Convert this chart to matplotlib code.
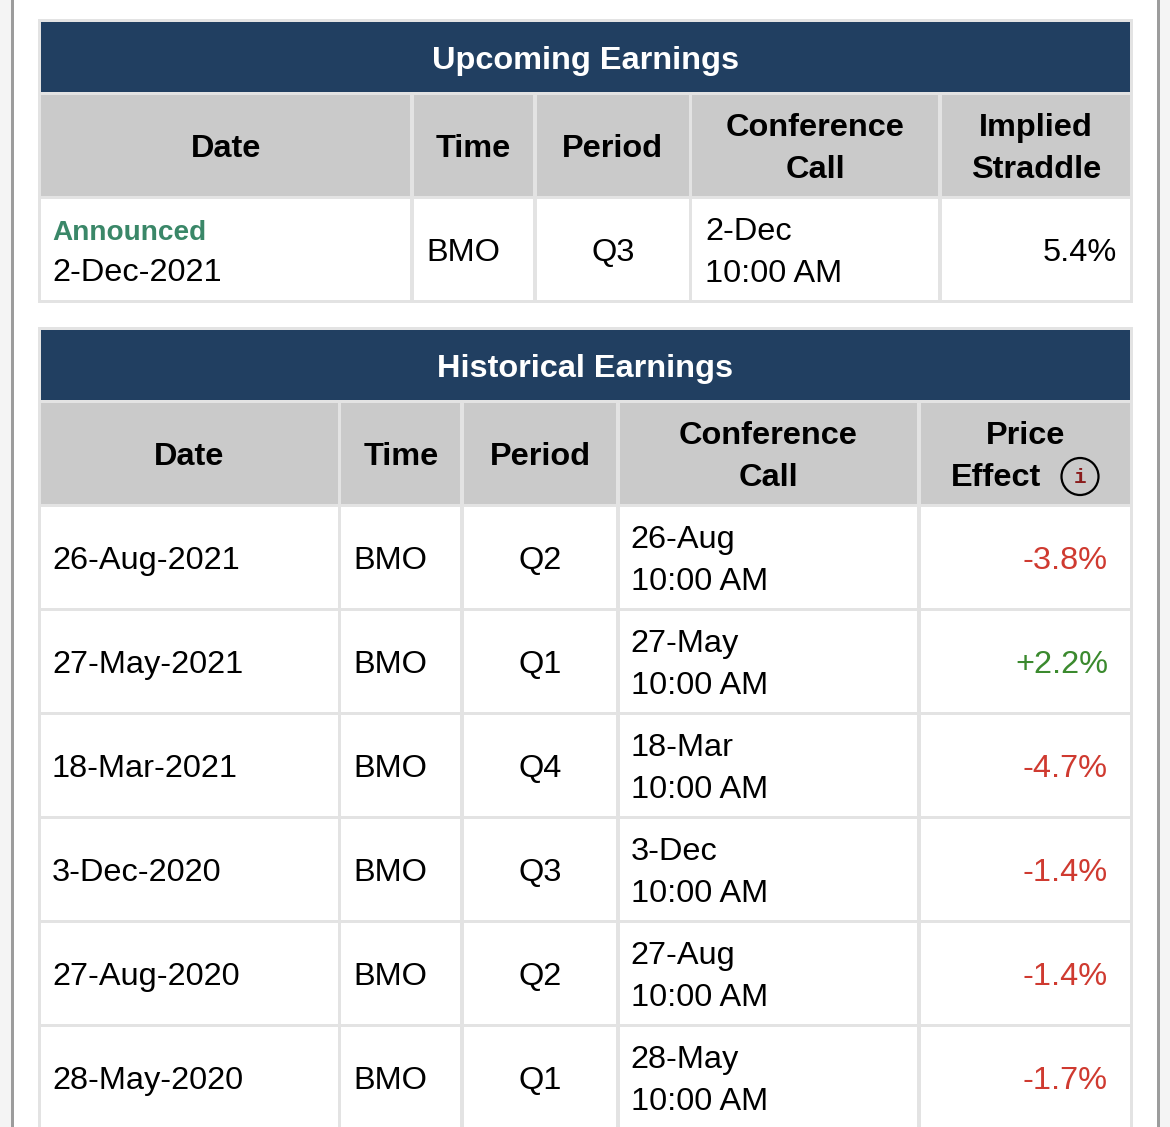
import matplotlib.pyplot as plt
from matplotlib.patches import Circle, Rectangle

plt.rcParams["font.family"] = ["Liberation Sans", "DejaVu Sans"]

# ---- data -------------------------------------------------------------
upcoming_title = "Upcoming Earnings"
upcoming_headers = ["Date", "Time", "Period", "Conference\nCall", "Implied\nStraddle"]
upcoming_status = "Announced"
upcoming_date = "2-Dec-2021"
upcoming_time = "BMO"
upcoming_period = "Q3"
upcoming_call = ["2-Dec", "10:00 AM"]
upcoming_straddle = 5.4

hist_title = "Historical Earnings"
hist_headers = ["Date", "Time", "Period", "Conference\nCall", "Price\nEffect"]
hist_dates = ["26-Aug-2021", "27-May-2021", "18-Mar-2021",
              "3-Dec-2020", "27-Aug-2020", "28-May-2020"]
hist_times = ["BMO", "BMO", "BMO", "BMO", "BMO", "BMO"]
hist_periods = ["Q2", "Q1", "Q4", "Q3", "Q2", "Q1"]
hist_call_days = ["26-Aug", "27-May", "18-Mar", "3-Dec", "27-Aug", "28-May"]
hist_call_times = ["10:00 AM"] * 6
price_effect = [-3.8, 2.2, -4.7, -1.4, -1.4, -1.7]

# ---- style ------------------------------------------------------------
W, H = 1170, 1127
BLUE = "#213f61"
HEAD_GRAY = "#cacaca"
BORDER = "#e3e3e3"
RED = "#cf3a30"
GREEN = "#3b8a2e"
ANN_GREEN = "#3a8768"
FPX = 32.5               # font size in pixels
FS = FPX * 0.72          # in points at dpi 100
LINE = 42                # line spacing in px
GAP = 3.5                # border width between cells

fig = plt.figure(figsize=(W / 100, H / 100), dpi=100)
ax = fig.add_axes([0, 0, 1, 1])
ax.set_xlim(0, W)
ax.set_ylim(H, 0)
ax.axis("off")

# page frame
ax.add_patch(Rectangle((0, 0), 11, H, color="#f4f4f4", lw=0))
ax.add_patch(Rectangle((11, 0), 2.5, H, color="#9c9c9c", lw=0))
ax.add_patch(Rectangle((1157, 0), 2.5, H, color="#9c9c9c", lw=0))
ax.add_patch(Rectangle((1159.5, 0), W - 1159.5, H, color="#f4f4f4", lw=0))


def cell(x0, x1, y0, y1, color):
    ax.add_patch(Rectangle((x0, y0), x1 - x0, y1 - y0, color=color, lw=0))


def put(x, yc, lines, ha="left", color="black", weight="normal", fpx=FPX):
    n = len(lines)
    for i, s in enumerate(lines):
        y = yc + (i - (n - 1) / 2) * LINE + 0.358 * fpx
        ax.text(x, y, s, ha=ha, va="baseline", fontsize=fpx * 0.72,
                color=color, fontweight=weight)


def draw_table(top, bottom, bounds, title, headers):
    left, right = 41, 1130
    ax.add_patch(Rectangle((left - 3, top - 3), right - left + 6,
                           bottom - top + 6, color=BORDER, lw=0))
    edges = [left] + bounds + [right]
    cols = [(edges[i] + (GAP / 2 if i else 0),
             edges[i + 1] - (GAP / 2 if i + 1 < len(edges) - 1 else 0))
            for i in range(len(edges) - 1)]
    # title bar
    cell(left, right, top, top + 70, BLUE)
    put((left + right) / 2, top + 35, [title], ha="center", color="white",
        weight="bold")
    # header row
    hy0, hy1 = top + 73, top + 174
    for c0, c1 in cols:
        cell(c0, c1, hy0, hy1, HEAD_GRAY)
    return cols, hy0, hy1


# ---- upcoming earnings -------------------------------------------------
cols1, hy0, hy1 = draw_table(22, 300, [412, 535, 690.5, 940],
                             upcoming_title, upcoming_headers)
for (c0, c1), h in zip(cols1, upcoming_headers):
    put((c0 + c1) / 2, (hy0 + hy1) / 2, h.split("\n"), ha="center",
        weight="bold")
by0, by1 = hy1 + 3, 300
for c0, c1 in cols1:
    cell(c0, c1, by0, by1, "white")
yc = (by0 + by1) / 2
put(cols1[0][0] + 11, yc - 20, [upcoming_status], color=ANN_GREEN,
    weight="bold", fpx=28)
put(cols1[0][0] + 11, yc + 20, [upcoming_date])
put(cols1[1][0] + 13, yc, [upcoming_time])
put((cols1[2][0] + cols1[2][1]) / 2, yc, [upcoming_period], ha="center")
put(cols1[3][0] + 13, yc, upcoming_call)
put(cols1[4][1] - 13, yc, [f"{upcoming_straddle:.1f}%"], ha="right")

# ---- historical earnings -----------------------------------------------
cols2, hy0, hy1 = draw_table(330, H + 10, [339.5, 462, 618, 919],
                             hist_title, hist_headers)
for i, ((c0, c1), h) in enumerate(zip(cols2, hist_headers)):
    lines = h.split("\n")
    if i == len(hist_headers) - 1:
        put((c0 + c1) / 2, (hy0 + hy1) / 2 - LINE / 2, [lines[0]],
            ha="center", weight="bold")
        put(996, (hy0 + hy1) / 2 + LINE / 2, [lines[1]], ha="center",
            weight="bold")
        # info icon
        icx, icy = 1080, (hy0 + hy1) / 2 + LINE / 2 + 2
        ax.add_patch(Circle((icx, icy), 18.5, fill=False, ec="black", lw=1.6))
        ax.text(icx, icy + 1, "i", ha="center", va="center",
                fontsize=15, color="#8a1c1c", fontweight="bold",
                family="Liberation Mono")
    else:
        put((c0 + c1) / 2, (hy0 + hy1) / 2, lines, ha="center", weight="bold")

row_h = 104
for r in range(len(hist_dates)):
    ry0 = hy1 + 3 + r * row_h
    ry1 = ry0 + row_h - 3
    for c0, c1 in cols2:
        cell(c0, c1, ry0, ry1, "white")
    yc = (ry0 + ry1) / 2
    put(cols2[0][0] + 11, yc, [hist_dates[r]])
    put(cols2[1][0] + 12, yc, [hist_times[r]])
    put((cols2[2][0] + cols2[2][1]) / 2, yc, [hist_periods[r]], ha="center")
    put(cols2[3][0] + 11, yc, [hist_call_days[r], hist_call_times[r]])
    v = price_effect[r]
    put(cols2[4][1] - 22, yc, [f"{v:+.1f}%"], ha="right",
        color=GREEN if v > 0 else RED)

fig.savefig("out.png", dpi=100)
